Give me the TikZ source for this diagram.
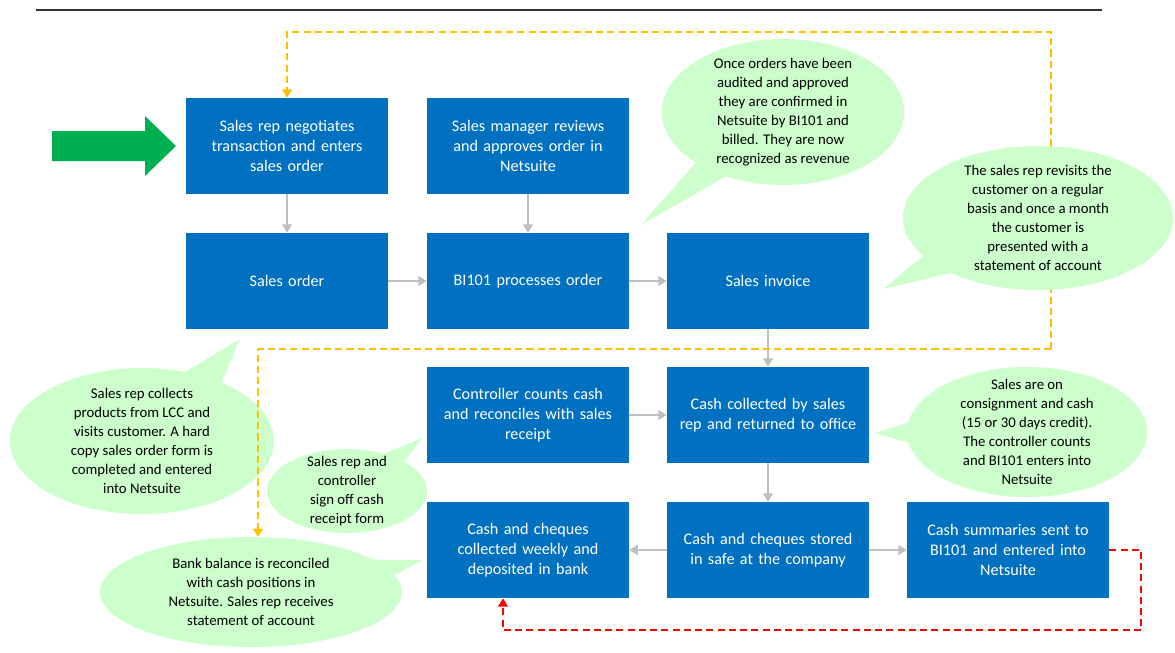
\documentclass[tikz,border=0pt]{standalone}
\usepackage{fontspec}
\setmainfont{Carlito}
\usetikzlibrary{arrows.meta, shapes.callouts, calc}
\definecolor{boxblue}{RGB}{0,112,192}
\definecolor{bubblegreen}{RGB}{204,255,204}
\definecolor{arrowgreen}{RGB}{0,176,80}
\definecolor{flowgray}{RGB}{191,191,191}
\definecolor{loopyellow}{RGB}{255,192,0}

\begin{document}
\begin{tikzpicture}[x=0.025cm, y=-0.025cm,
	stepbox/.style={fill=boxblue, text=white, minimum width=5.05cm, minimum height=2.4cm,
		text width=4.9cm, align=center, inner sep=0pt, font=\fontsize{11.5}{14.2}\selectfont},
	bubble/.style={ellipse callout, fill=bubblegreen, inner sep=0pt, callout pointer arc=18},
	note/.style={align=center, font=\fontsize{10.5}{13.6}\selectfont},
	flow/.style={flowgray, line width=1.4pt, -{Triangle[length=6pt,width=7pt]}},
	yellowloop/.style={loopyellow, line width=1.4pt, dash pattern=on 5pt off 3pt, -{Triangle[length=6pt,width=7pt]}},
	redloop/.style={red, line width=1.4pt, dash pattern=on 5pt off 3pt, -{Triangle[length=6pt,width=7pt]}}]
	\useasboundingbox (0,0) rectangle (1175,652);
	
	\draw[black!80, line width=0.8pt] (36,10) -- (1102,10);
	
	% process boxes
	\node[stepbox] (rep)   at (287,146) {Sales rep negotiates\\transaction and enters\\sales order};
	\node[stepbox] (mgr)   at (528,146) {Sales manager reviews\\and approves order in\\Netsuite};
	\node[stepbox] (order) at (287,281) {Sales order};
	\node[stepbox] (proc)  at (528,281) {BI101 processes order};
	\node[stepbox] (inv)   at (768,281) {Sales invoice};
	\node[stepbox] (ctrl)  at (528,415) {Controller counts cash\\and reconciles with sales\\receipt};
	\node[stepbox] (cash)  at (768,415) {Cash collected by sales\\rep and returned to office};
	\node[stepbox] (coll)  at (528,550) {Cash and cheques\\collected weekly and\\deposited in bank};
	\node[stepbox] (safe)  at (768,550) {Cash and cheques stored\\in safe at the company};
	\node[stepbox] (sum)   at (1008,550) {Cash summaries sent to\\BI101 and entered into\\Netsuite};
	
	% start arrow
	\fill[arrowgreen] (52,131) -- (145,131) -- (145,116) -- (176,146) -- (145,176) -- (145,161) -- (52,161) -- cycle;
	
	% callouts
	\node[bubble, minimum width=6.05cm, minimum height=3.65cm, callout absolute pointer={(641,225)}] (billed) at (783,112) {};
	\node[note] at (billed) {Once orders have been\\audited and approved\\they are confirmed in\\Netsuite by BI101 and\\billed. They are now\\recognized as revenue};
	\node[bubble, minimum width=6.6cm, minimum height=3.65cm, callout absolute pointer={(240,339)}] (visit) at (142,441) {};
	\node[note] at (visit) {Sales rep collects\\products from LCC and\\visits customer. A hard\\copy sales order form is\\completed and entered\\into Netsuite};
	\node[bubble, minimum width=4cm, minimum height=2.1cm, callout absolute pointer={(422,438)}] (signoff) at (347,491) {};
	\node[note] at (signoff) {Sales rep and\\controller\\sign off cash\\receipt form};
	\node[bubble, minimum width=7.55cm, minimum height=2.75cm, callout absolute pointer={(423,560)}] (bank) at (251,592) {};
	\node[note] at (bank) {Bank balance is reconciled\\with cash positions in\\Netsuite. Sales rep receives\\statement of account};
	\node[bubble, minimum width=6cm, minimum height=3.25cm, callout absolute pointer={(875,433)}] (consign) at (1027,432) {};
	\node[note] at (consign) {Sales are on\\consignment and cash\\(15 or 30 days credit).\\The controller counts\\and BI101 enters into\\Netsuite};
	
	% flow
	\draw[flow] (rep) -- (order);
	\draw[flow] (mgr) -- (proc);
	\draw[flow] (order) -- (proc);
	\draw[flow] (proc) -- (inv);
	\draw[flow] (inv) -- (cash);
	\draw[flow] (ctrl) -- (cash);
	\draw[flow] (cash) -- (safe);
	\draw[flow] (safe) -- (coll);
	\draw[flow] (safe) -- (sum);
	
	% feedback loops
	\coordinate (turn) at (1051,349);
	\coordinate (bankin) at (258,537);
	\draw[yellowloop] (turn) -- ++(0,-317) -| (rep.north);
	\draw[yellowloop] (turn) -| (bankin);
	\draw[redloop] (sum.east) -- ++(32,0) -- ++(0,80) -| ($(coll.south)+(-25,0)$);
	
	% this one sits over the yellow line
	\node[bubble, minimum width=6.75cm, minimum height=3.6cm, callout absolute pointer={(883,289)}] (revisit) at (1038,218) {};
	\node[note] at (revisit) {The sales rep revisits the\\customer on a regular\\basis and once a month\\the customer is\\presented with a\\statement of account};
\end{tikzpicture}
\end{document}
